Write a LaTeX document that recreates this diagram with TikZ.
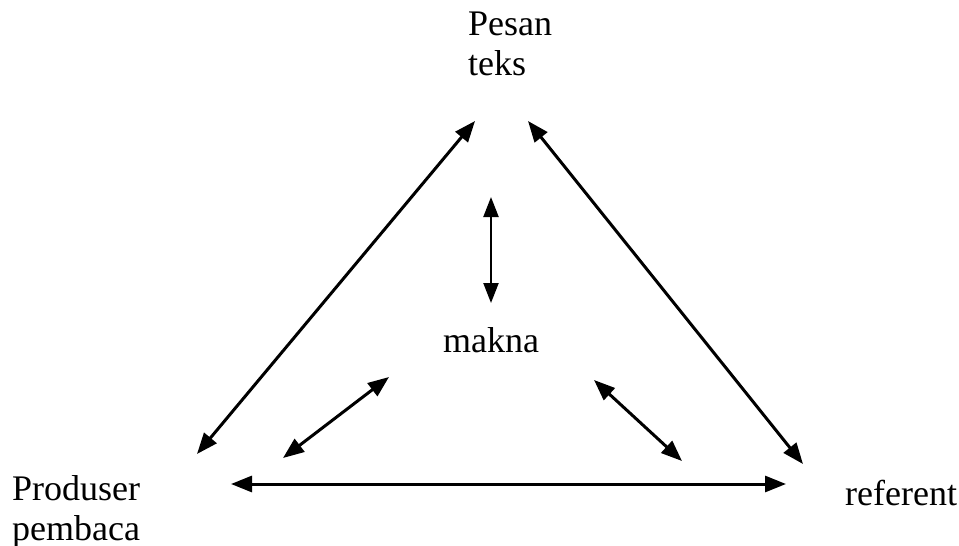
\documentclass[tikz,border=0pt]{standalone}
\usepackage{fontspec}
\setmainfont{Liberation Serif}
\usetikzlibrary{arrows.meta}
\begin{document}
\begin{tikzpicture}[x=1pt,y=-1pt,
  lbl/.style={font=\fontsize{36}{40}\selectfont, inner sep=0pt, align=left, anchor=base west},
  dbl/.style={line width=3pt, {Triangle[length=21pt,width=16pt]}-{Triangle[length=21pt,width=16pt]}},
  dblthin/.style={line width=2.2pt, {Triangle[length=20pt,width=15pt]}-{Triangle[length=20pt,width=15pt]}}]
\useasboundingbox (0,0) rectangle (959,546);
\node[lbl] (pesan) at (468,75) {Pesan\\teks};
\node[lbl] (makna) at (443,352) {makna};
\node[lbl] (produser) at (12,540) {Produser\\pembaca};
\node[lbl] (referent) at (845,505) {referent};
\coordinate (tl) at (475,121);
\coordinate (tr) at (528,121);
\coordinate (bl) at (197,454);
\coordinate (br) at (803,464);
\coordinate (mt) at (491,197);
\coordinate (mb) at (491,303);
\coordinate (ml1) at (389,377);
\coordinate (ml2) at (283,458);
\coordinate (mr1) at (594,380);
\coordinate (mr2) at (682,461);
\coordinate (hl) at (231,484);
\coordinate (hr) at (786,484);
\draw[dbl] (tl) -- (bl);
\draw[dbl] (tr) -- (br);
\draw[dblthin] (mt) -- (mb);
\draw[dbl] (ml1) -- (ml2);
\draw[dbl] (mr1) -- (mr2);
\draw[dbl] (hl) -- (hr);
\end{tikzpicture}
\end{document}
